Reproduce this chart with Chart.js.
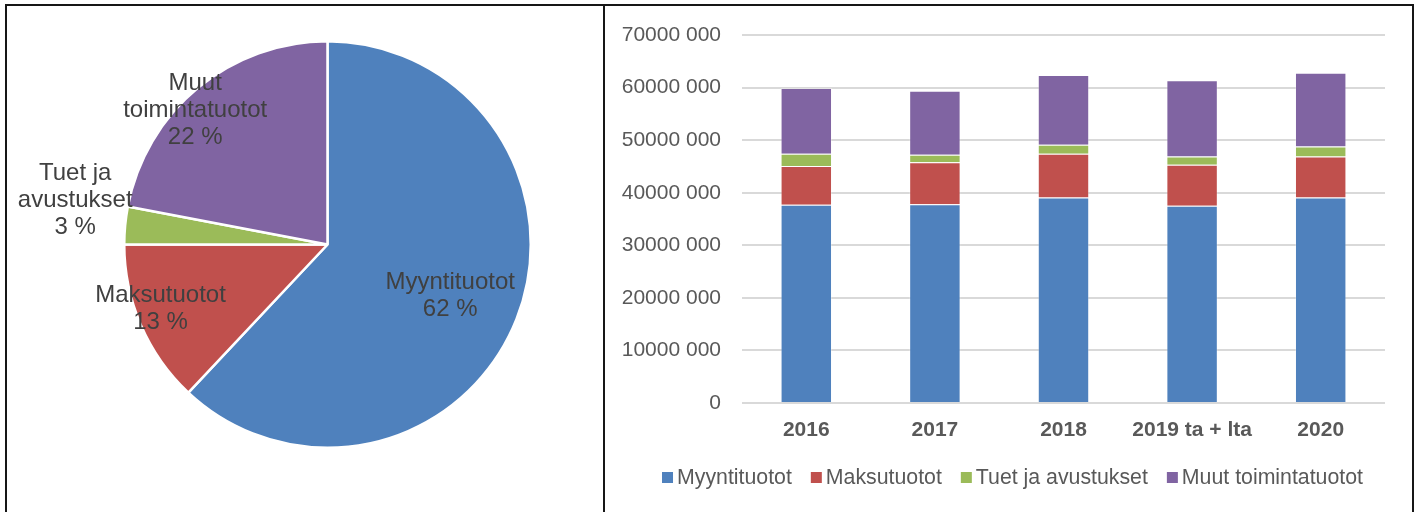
<!DOCTYPE html>
<html>
<head>
<meta charset="utf-8">
<script src="https://cdn.jsdelivr.net/npm/chart.js@4.4.0/dist/chart.umd.min.js"></script>
<style>
  html, body { margin: 0; padding: 0; background: #fff; }
  body { width: 1416px; height: 512px; position: relative; overflow: hidden; }
  canvas { position: absolute; top: 0; }
  .frame { position: absolute; top: 4px; height: 540px; box-sizing: border-box; border: 2px solid #161616; pointer-events: none; }
</style>
</head>
<body>
<canvas id="pie" width="604" height="512" style="left:0"></canvas>
<canvas id="bars" width="812" height="512" style="left:604px"></canvas>
<div class="frame" style="left:5px; width:600px;"></div>
<div class="frame" style="left:603px; width:811px;"></div>

<script>
// --- data ---
const pieLabels = ['Myyntituotot', 'Maksutuotot', 'Tuet ja avustukset', 'Muut toimintatuotot'];
const pieLines = [['Myyntituotot'], ['Maksutuotot'], ['Tuet ja', 'avustukset'], ['Muut', 'toimintatuotot']];
const pieShares = [62, 13, 3, 22];

const years = ['2016', '2017', '2018', '2019 ta + lta', '2020'];
const myyntituotot = [37700000, 37800000, 39100000, 37500000, 39100000];
const maksutuotot = [7400000, 8000000, 8300000, 7800000, 7800000];
const tuetJaAvustukset = [2300000, 1400000, 1700000, 1600000, 1900000];
const muutToimintatuotot = [12500000, 12200000, 13300000, 14500000, 14000000];

const colors = ['#4F81BD', '#C0504D', '#9BBB59', '#8064A2'];
const FONT = "'Liberation Sans', Arial, sans-serif";

// label placement inside/outside slices: [radius factor, angle shift in degrees]
const pieLabelPos = [[0.655, 1.2], [0.88, 2.4], [1.26, 4.5], [0.927, -5]];

const pieLabelPlugin = {
  id: 'pieLabels',
  afterDatasetsDraw(chart) {
    const ctx = chart.ctx;
    const meta = chart.getDatasetMeta(0);
    ctx.save();
    ctx.font = '24px ' + FONT;
    ctx.fillStyle = '#404040';
    ctx.textAlign = 'center';
    ctx.textBaseline = 'middle';
    const lh = 27;
    meta.data.forEach((arc, i) => {
      const p = arc.getProps(['x', 'y', 'startAngle', 'endAngle', 'outerRadius'], true);
      const [f, shift] = pieLabelPos[i];
      const mid = (p.startAngle + p.endAngle) / 2 + shift * Math.PI / 180;
      const cx = p.x + Math.cos(mid) * p.outerRadius * f;
      const cy = p.y + Math.sin(mid) * p.outerRadius * f;
      const lines = pieLines[i].concat([pieShares[i] + ' %']);
      const y0 = cy - (lines.length - 1) * lh / 2;
      lines.forEach((t, k) => ctx.fillText(t, cx, y0 + k * lh));
    });
    ctx.restore();
  }
};

new Chart(document.getElementById('pie'), {
  type: 'pie',
  data: {
    labels: pieLabels,
    datasets: [{
      data: pieShares,
      backgroundColor: colors,
      borderColor: '#ffffff',
      borderWidth: 2.5
    }]
  },
  options: {
    responsive: false,
    animation: false,
    layout: { padding: { left: 123, top: 40, right: 72, bottom: 63 } },
    plugins: { legend: { display: false }, tooltip: { enabled: false } }
  },
  plugins: [pieLabelPlugin]
});

// legend for the bar chart drawn by hand so the spacing matches
const barLegend = {
  id: 'barLegend',
  afterDraw(chart) {
    const ctx = chart.ctx;
    ctx.save();
    ctx.font = '21.3px ' + FONT;
    const box = 11, gapText = 4, gapItem = 19;
    const items = chart.data.datasets.map(ds => ({ text: ds.label, color: ds.backgroundColor, w: ctx.measureText(ds.label).width }));
    const total = items.reduce((s, it) => s + box + gapText + it.w, 0) + gapItem * (items.length - 1);
    let x = 408.5 - total / 2;
    const y = 477.5;
    ctx.textBaseline = 'middle';
    items.forEach(it => {
      ctx.fillStyle = it.color;
      ctx.fillRect(x, y - box / 2, box, box);
      ctx.fillStyle = '#595959';
      ctx.fillText(it.text, x + box + gapText, y + 1);
      x += box + gapText + it.w + gapItem;
    });
    ctx.restore();
  }
};

const fmtTick = v => v === 0 ? '0' : Math.floor(v / 1000) + ' ' + String(v % 1000).padStart(3, '0');

new Chart(document.getElementById('bars'), {
  type: 'bar',
  data: {
    labels: years,
    datasets: [
      { label: 'Myyntituotot', data: myyntituotot, backgroundColor: colors[0] },
      { label: 'Maksutuotot', data: maksutuotot, backgroundColor: colors[1] },
      { label: 'Tuet ja avustukset', data: tuetJaAvustukset, backgroundColor: colors[2] },
      { label: 'Muut toimintatuotot', data: muutToimintatuotot, backgroundColor: colors[3] }
    ].map(ds => Object.assign(ds, {
      borderColor: 'rgba(255,255,255,0.3)',
      borderWidth: 1,
      categoryPercentage: 1,
      barPercentage: 0.4
    }))
  },
  options: {
    responsive: false,
    animation: false,
    layout: { padding: { left: 0, right: 31, top: 35, bottom: 0 } },
    plugins: { legend: { display: false }, tooltip: { enabled: false } },
    scales: {
      x: {
        stacked: true,
        grid: { display: false },
        border: { display: false },
        ticks: { color: '#595959', padding: 7, font: { family: FONT, size: 21, weight: 'bold' } },
        afterFit: s => { s.height = 109; }
      },
      y: {
        stacked: true,
        min: 0,
        max: 70000000,
        grid: { color: '#d9d9d9', lineWidth: 2, drawTicks: false },
        border: { display: false },
        ticks: { stepSize: 10000000, padding: 21, color: '#595959', font: { family: FONT, size: 21 }, callback: fmtTick },
        afterFit: s => { s.width = 138; }
      }
    }
  },
  plugins: [barLegend]
});
</script>
</body>
</html>
